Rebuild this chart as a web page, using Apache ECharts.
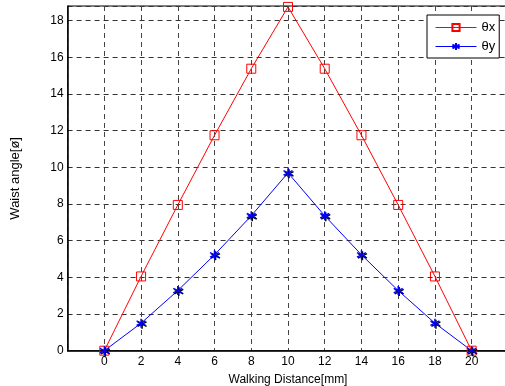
<!DOCTYPE html>
<html>
<head>
<meta charset="utf-8">
<script src="https://cdn.jsdelivr.net/npm/echarts@6/dist/echarts.min.js"></script>
<style>
  html, body { margin: 0; padding: 0; background: #fff; }
  #chart { width: 505px; height: 386px; }
</style>
</head>
<body>
<div id="chart"></div>
<script>
// walking distance [mm]
const distance = [0, 2, 4, 6, 8, 10, 12, 14, 16, 18, 20]
// waist angles
const thetaX = [0, 4.05, 7.95, 11.75, 15.38, 18.75, 15.38, 11.75, 7.95, 4.05, 0]
const thetaY = [0, 1.5, 3.28, 5.23, 7.36, 9.7, 7.36, 5.23, 3.28, 1.5, 0]

const font = 'Liberation Sans, Arial, sans-serif'
const star = 'path://M5 0L5 10M0.7 2.5L9.3 7.5M0.7 7.5L9.3 2.5'

const pairs = arr => distance.map((d, i) => [d, arr[i]])

const myChart = echarts.init(document.getElementById('chart'))
myChart.setOption({
  animation: false,
  backgroundColor: '#fff',
  textStyle: { fontFamily: font },
  grid: {
    left: 67.6, top: 6, right: -3.4, bottom: 35.3,
    outerBoundsMode: 'none',
    containLabel: false,
    show: true, borderColor: '#000', borderWidth: 1
  },
  legend: {
    orient: 'vertical',
    left: 427, top: 15,
    padding: [6, 4, 5, 8],
    itemWidth: 41, itemHeight: 9, itemGap: 6,
    backgroundColor: '#fff',
    borderColor: '#000', borderWidth: 1,
    lineStyle: { width: 1 },
    textStyle: { fontFamily: font, fontSize: 13, color: '#000' },
    data: ['θx', 'θy']
  },
  xAxis: {
    type: 'value',
    min: -2, max: 22, interval: 2,
    name: 'Walking Distance[mm]',
    nameLocation: 'middle', nameGap: 23,
    nameTextStyle: { fontFamily: font, fontSize: 12, color: '#000' },
    axisLine: { onZero: false, lineStyle: { color: '#000', width: 1.5 } },
    axisTick: { show: false },
    axisLabel: {
      margin: 5, fontSize: 12, color: '#000', fontFamily: font,
      formatter: v => (v < 0 || v > 20) ? '' : String(v)
    },
    splitLine: { lineStyle: { color: '#444', type: [5, 4], width: 1 } }
  },
  yAxis: {
    type: 'value',
    min: 0, max: 18.8, interval: 2,
    name: 'Waist angle[ø]',
    nameLocation: 'middle', nameGap: 46, nameRotate: 90,
    nameTextStyle: { fontFamily: font, fontSize: 13, color: '#000' },
    axisLine: { show: true, onZero: false, lineStyle: { color: '#000', width: 1.5 } },
    axisTick: { show: false },
    axisLabel: {
      margin: 4, fontSize: 12, color: '#000', fontFamily: font,
      showMaxLabel: false,
      formatter: v => (v % 2 === 0) ? String(v) : ''
    },
    splitLine: { lineStyle: { color: '#333', type: [5, 4], width: 1 } }
  },
  series: [
    {
      name: 'θx',
      type: 'line',
      data: pairs(thetaX),
      symbol: 'rect',
      symbolSize: 9,
      lineStyle: { color: '#ff0000', width: 1 },
      itemStyle: { color: 'rgba(0,0,0,0)', borderColor: '#ff0000', borderWidth: 1 }
    },
    {
      name: 'θy',
      type: 'line',
      data: pairs(thetaY),
      symbol: star,
      symbolSize: 9,
      lineStyle: { color: '#0000ff', width: 1 },
      itemStyle: {
        color: '#0000ff', borderColor: '#0000ff', borderWidth: 1.5,
        shadowColor: '#000', shadowOffsetX: 1, shadowOffsetY: 1, shadowBlur: 0
      }
    }
  ]
})
</script>
</body>
</html>
